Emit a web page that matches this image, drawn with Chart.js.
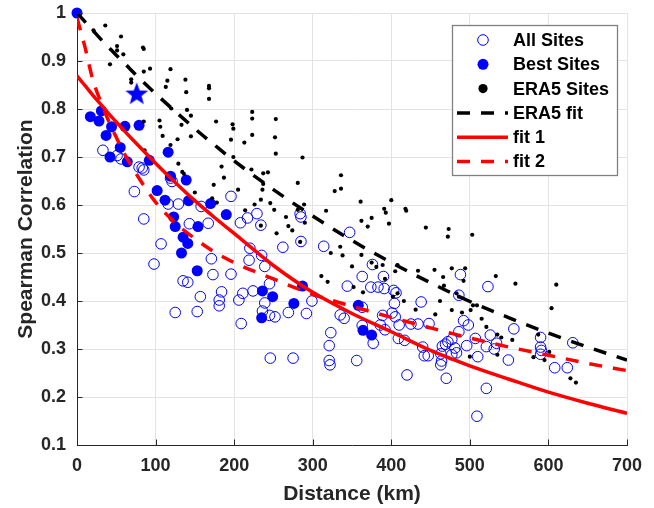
<!DOCTYPE html>
<html><head><meta charset="utf-8">
<script src="https://cdn.jsdelivr.net/npm/chart.js@4.4.0/dist/chart.umd.min.js"></script>
<style>html,body{margin:0;padding:0;background:#fff;}canvas{display:block;}</style>
</head><body>
<canvas id="c" width="654" height="508"></canvas>
<script>
// ---- ticks ----
const xTicks = [0,100,200,300,400,500,600,700];
const xTickLabels = ['0','100','200','300','400','500','600','700'];
const yTicks = [0.1,0.2,0.3,0.4,0.5,0.6,0.7,0.8,0.9,1.0];
const yTickLabels = ['0.1','0.2','0.3','0.4','0.5','0.6','0.7','0.8','0.9','1'];
const xTitle = 'Distance (km)';
const yTitle = 'Spearman Correlation';
const legendLabels = ['All Sites','Best Sites','ERA5 Sites','ERA5 fit','fit 1','fit 2'];

// ---- series ----
const allSites = [[33,0.714],[51,0.703],[56,0.696],[79,0.679],[83,0.677],[85,0.673],[119,0.656],[121,0.649],[73,0.628],[85,0.571],[116,0.602],[129,0.602],[143,0.561],[167,0.562],[158,0.597],[196,0.618],[208,0.563],[217,0.573],[229,0.582],[234,0.558],[262,0.512],[284,0.582],[285,0.575],[285,0.524],[314,0.514],[107,0.519],[220,0.51],[347,0.543],
[98,0.477],[171,0.488],[219,0.485],[235,0.495],[239,0.472],[173,0.455],[196,0.456],[135,0.442],[141,0.439],[157,0.409],[184,0.419],[181,0.402],[181,0.39],[206,0.402],[211,0.416],[224,0.421],[245,0.436],[239,0.396],[236,0.379],[245,0.37],[252,0.367],[125,0.376],[153,0.378],[209,0.353],[269,0.376],[292,0.374],[299,0.40],[246,0.281],[275,0.281],
[344,0.431],[335,0.371],[340,0.364],[323,0.334],[321,0.307],[321,0.276],[322,0.267],[356,0.276],
[376,0.476],[363,0.451],[390,0.451],[374,0.429],[383,0.429],[391,0.426],[403,0.422],[406,0.417],[404,0.395],[363,0.387],[389,0.37],[401,0.375],[405,0.367],[410,0.35],[363,0.349],[377,0.312],[386,0.35],[392,0.34],[409,0.322],[417,0.318],[425,0.352],[434,0.352],[448,0.353],[438,0.398],[420,0.246],[440,0.304],[442,0.286],[447,0.286],[463,0.29],[464,0.275],[463,0.267],[465,0.306],[469,0.31],[472,0.315],[470,0.239],[477,0.32],[481,0.302],[483,0.292],[477,0.288],[486,0.336],[488,0.455],[486,0.412],[492,0.359],[496,0.307],[498,0.35],[507,0.322],[510,0.284],[509,0.16],[521,0.218],[523,0.43],[521,0.305],[526,0.329],[531,0.30],[534,0.312],[549,0.277],[556,0.342],[590,0.324],[590,0.304],[591,0.297],[590,0.289],[608,0.261],[624,0.261],[631,0.313]];

const bestSites = [[0,1.0],[17,0.784],[28,0.775],[31,0.796],[37,0.745],[42,0.70],[44,0.763],[55,0.72],[61,0.764],[64,0.69],[79,0.766],[92,0.693],[102,0.63],[112,0.61],[116,0.71],[119,0.66],[123,0.575],[125,0.555],[139,0.652],[142,0.609],[135,0.533],[141,0.52],[133,0.50],[153,0.463],[154,0.555],[170,0.603],[190,0.58],[236,0.421],[249,0.409],[235,0.365],[276,0.395],[287,0.431],[358,0.391],[364,0.339],[375,0.329]];

const specialSite = [[76,0.832]];

const era5Sites = [[21,0.964],[36,0.974],[56,0.951],[51,0.931],[51,0.922],[59,0.914],[42,0.893],[84,0.928],[85,0.925],[93,0.884],[85,0.878],[119,0.883],[69,0.862],[69,0.855],[115,0.859],[138,0.861],[139,0.835],[168,0.848],[168,0.843],[113,0.846],[168,0.821],[120,0.801],[140,0.798],[105,0.776],[106,0.763],[145,0.786],[133,0.767],[177,0.774],[85,0.774],[109,0.744],[128,0.737],[145,0.743],[119,0.725],[86,0.714],[129,0.686],[134,0.669],[136,0.665],[150,0.626],[172,0.614],[174,0.642],[178,0.605],[184,0.68],[187,0.657],[198,0.768],[199,0.759],[196,0.736],[199,0.70],[205,0.632],[214,0.589],[223,0.794],[223,0.78],[223,0.746],[213,0.73],[222,0.674],[237,0.666],[243,0.668],[237,0.644],[236,0.632],[234,0.611],[226,0.601],[246,0.604],[251,0.59],[253,0.779],[252,0.741],[253,0.707],[287,0.699],[281,0.646],[289,0.601],[281,0.59],[266,0.575],[269,0.556],[274,0.547],[290,0.563],[254,0.541],[234,0.557],[284,0.523],[317,0.588],[328,0.629],[336,0.634],[336,0.662],[361,0.607],[400,0.61],[391,0.592],[393,0.584],[418,0.592],[419,0.588],[362,0.567],[375,0.573],[370,0.555],[397,0.561],[444,0.553],[473,0.55],[472,0.534],[503,0.538],[335,0.513],[323,0.50],[338,0.495],[362,0.496],[311,0.452],[319,0.44],[350,0.472],[352,0.429],[375,0.48],[381,0.471],[389,0.475],[408,0.475],[405,0.462],[392,0.446],[364,0.418],[402,0.409],[408,0.416],[416,0.40],[431,0.382],[456,0.372],[434,0.463],[455,0.465],[466,0.45],[467,0.432],[477,0.468],[494,0.468],[492,0.442],[462,0.40],[477,0.381],[483,0.416],[486,0.409],[490,0.376],[501,0.381],[504,0.391],[509,0.391],[515,0.363],[521,0.346],[533,0.452],[558,0.436],[610,0.434],[604,0.385],[535,0.33],[540,0.324],[554,0.319],[535,0.288],[500,0.284],[587,0.33],[581,0.283],[595,0.277],[601,0.294],[628,0.239],[635,0.23]];

const fitX    = [0,10,20,30,40,50,60,75,100,125,150,175,200,250,300,350,400,450,500,550,600,650,700];
const era5Fit = [1.0,0.982,0.964,0.946,0.929,0.912,0.896,0.871,0.832,0.795,0.759,0.725,0.692,0.632,0.577,0.526,0.480,0.438,0.399,0.365,0.333,0.304,0.277];
const fit1    = [0.869,0.849,0.829,0.810,0.791,0.773,0.755,0.729,0.687,0.647,0.609,0.574,0.541,0.474,0.418,0.374,0.336,0.297,0.265,0.237,0.210,0.187,0.166];
const fit2    = [0.99,0.93,0.862,0.816,0.776,0.741,0.708,0.666,0.606,0.563,0.530,0.502,0.480,0.446,0.414,0.389,0.366,0.344,0.323,0.304,0.287,0.270,0.255];

// ---- styling ----
const FONT = "'Liberation Sans', Arial, Helvetica, sans-serif";
const BLUE = '#0000ff', RED = '#ff0000', AX = '#262626';
const toXY = arr => arr.map(p => ({x:p[0], y:p[1]}));
const lineXY = ys => fitX.map((x,i) => ({x, y: ys[i]}));

function starCanvas(r){
  const s = Math.ceil(r*2+2), c = document.createElement('canvas');
  c.width = s; c.height = s;
  const g = c.getContext('2d');
  g.beginPath();
  for (let i=0;i<10;i++){
    const a = -Math.PI/2 + i*Math.PI/5, rr = i%2===0 ? r : r*0.42;
    const px = s/2 + rr*Math.cos(a), py = s/2 + rr*Math.sin(a) + 0.8;
    i===0 ? g.moveTo(px,py) : g.lineTo(px,py);
  }
  g.closePath(); g.fillStyle = BLUE; g.fill();
  return c;
}

const DASH = [13,11];

const inwardTicks = {
  id:'inwardTicks',
  afterDraw(chart){
    const {ctx, chartArea:a, scales:{x,y}} = chart;
    ctx.save(); ctx.strokeStyle = AX; ctx.lineWidth = 1;
    xTicks.forEach(v => { const px = Math.round(x.getPixelForValue(v))+0.5;
      ctx.beginPath(); ctx.moveTo(px, a.bottom); ctx.lineTo(px, a.bottom-5.5); ctx.stroke(); });
    yTicks.forEach(v => { const py = Math.round(y.getPixelForValue(v))+0.5;
      ctx.beginPath(); ctx.moveTo(a.left, py); ctx.lineTo(a.left+5.5, py); ctx.stroke(); });
    ctx.restore();
  }
};

const boxLegend = {
  id:'boxLegend',
  afterDraw(chart){
    const {ctx, chartArea:a} = chart;
    const right = a.right - 10, top = a.top + 12, w = 165, h = 150;
    const left = right - w;
    ctx.save();
    ctx.fillStyle = '#fff'; ctx.fillRect(left, top, w, h);
    ctx.strokeStyle = '#808080'; ctx.lineWidth = 1.3; ctx.strokeRect(left+0.5, top+0.5, w, h);
    const mx = left + 31, lx0 = left + 5, lx1 = left + 56, tx = left + 61;
    ctx.font = 'bold 18px ' + FONT; ctx.textBaseline = 'middle'; ctx.fillStyle = '#000';
    legendLabels.forEach((lab, i) => {
      const cy = top + 15 + i*24.3;
      ctx.save();
      if (i === 0){ ctx.beginPath(); ctx.arc(mx, cy, 5.3, 0, 2*Math.PI); ctx.strokeStyle = BLUE; ctx.lineWidth = 1; ctx.stroke(); }
      else if (i === 1){ ctx.beginPath(); ctx.arc(mx, cy, 5.5, 0, 2*Math.PI); ctx.fillStyle = BLUE; ctx.fill(); }
      else if (i === 2){ ctx.beginPath(); ctx.arc(mx, cy, 4.6, 0, 2*Math.PI); ctx.fillStyle = '#000'; ctx.fill(); }
      else {
        ctx.strokeStyle = (i === 3) ? '#000' : RED; ctx.lineWidth = 3.5;
        if (i !== 4) ctx.setLineDash(DASH);
        ctx.beginPath(); ctx.moveTo(lx0, cy); ctx.lineTo(lx1, cy); ctx.stroke();
      }
      ctx.restore();
      ctx.fillText(lab, tx, cy + 1);
    });
    ctx.restore();
  }
};

new Chart(document.getElementById('c'), {
  type: 'scatter',
  data: { datasets: [
    { label: legendLabels[5], data: lineXY(fit2), showLine: true, borderColor: RED, borderWidth: 3.5, borderDash: DASH, pointRadius: 0, cubicInterpolationMode: 'monotone', order: 1 },
    { label: legendLabels[4], data: lineXY(fit1), showLine: true, borderColor: RED, borderWidth: 3.5, pointRadius: 0, cubicInterpolationMode: 'monotone', order: 2 },
    { label: legendLabels[3], data: lineXY(era5Fit), showLine: true, borderColor: '#000', borderWidth: 3.5, borderDash: DASH, pointRadius: 0, cubicInterpolationMode: 'monotone', order: 3 },
    { label: 'star', data: toXY(specialSite), pointStyle: starCanvas(12), pointRadius: 12, clip: false, order: 4 },
    { label: legendLabels[2], data: toXY(era5Sites), pointRadius: 2.1, backgroundColor: '#000', borderWidth: 0, clip: false, order: 5 },
    { label: legendLabels[1], data: toXY(bestSites), pointRadius: 5.5, backgroundColor: BLUE, borderWidth: 0, clip: false, order: 6 },
    { label: legendLabels[0], data: toXY(allSites), pointRadius: 5.3, backgroundColor: 'rgba(0,0,0,0)', borderColor: BLUE, borderWidth: 1, clip: false, order: 7 }
  ]},
  options: {
    responsive: false, animation: false, devicePixelRatio: 1,
    layout: { padding: { left: 0, right: 27, top: 13, bottom: 0 } },
    plugins: { legend: { display: false }, tooltip: { enabled: false } },
    scales: {
      x: {
        type: 'linear', min: 0, max: 700,
        afterBuildTicks: s => { s.ticks = xTicks.map(v => ({value: v})); },
        afterFit: s => { s.height = 63; s.paddingLeft = 0; s.paddingRight = 0; },
        ticks: { callback: (v, i) => xTickLabels[i], color: AX, padding: 10, maxRotation: 0, font: { family: FONT, size: 18, weight: 'bold' } },
        grid: { color: '#e3e3e3', lineWidth: 1, drawTicks: false },
        border: { color: AX, width: 1 },
        title: { display: true, text: xTitle, color: AX, padding: { top: 0, bottom: 1 }, font: { family: FONT, size: 21, weight: 'bold' } }
      },
      y: {
        type: 'linear', min: 0.1, max: 1.0,
        afterBuildTicks: s => { s.ticks = yTicks.map(v => ({value: v})); },
        afterFit: s => { s.width = 77; s.paddingTop = 0; s.paddingBottom = 0; },
        ticks: { callback: (v, i) => yTickLabels[i], color: AX, padding: 11, font: { family: FONT, size: 18, weight: 'bold' } },
        grid: { color: '#e3e3e3', lineWidth: 1, drawTicks: false },
        border: { color: AX, width: 1 },
        title: { display: true, text: yTitle, color: AX, padding: { top: 14, bottom: 0 }, font: { family: FONT, size: 21, weight: 'bold' } }
      }
    }
  },
  plugins: [inwardTicks, boxLegend]
});
</script>
</body></html>
